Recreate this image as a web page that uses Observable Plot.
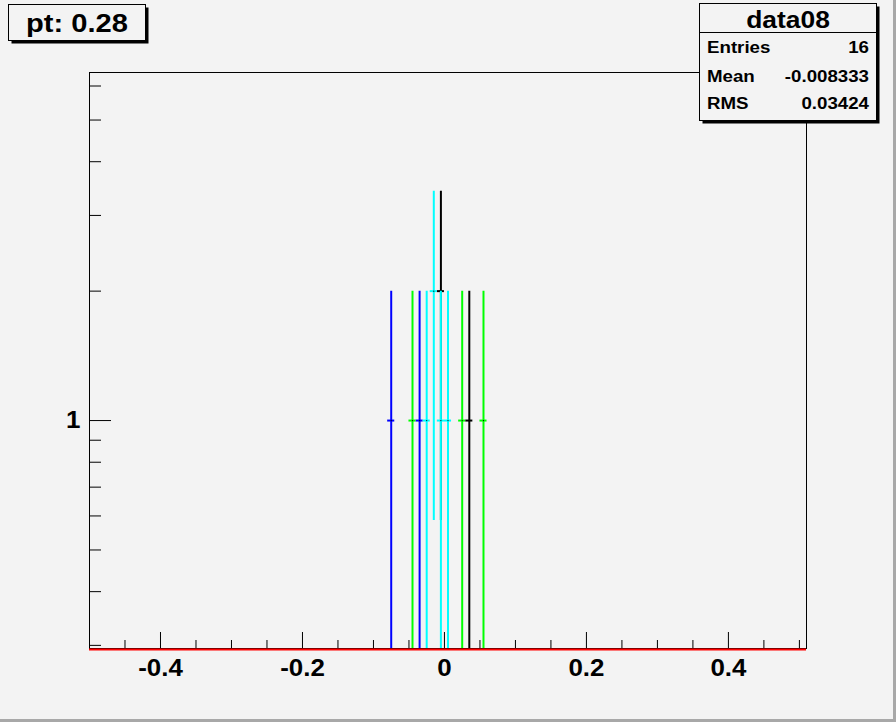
<!DOCTYPE html>
<html>
<head>
<meta charset="utf-8">
<script src="https://cdn.jsdelivr.net/npm/d3@7"></script>
<script src="https://cdn.jsdelivr.net/npm/@observablehq/plot@0.6"></script>
<style>
  html, body { margin: 0; padding: 0; background: #f3f3f3; }
  #canvas { position: relative; width: 896px; height: 722px; background: #f3f3f3; overflow: hidden;
            font-family: "Liberation Sans", Arial, Helvetica, sans-serif; }
  #canvas > svg { position: absolute; left: 0; top: 0; }
  .edgeR { position: absolute; right: 0; top: 0; width: 3px; height: 722px; background: #a8a8a8; }
  .edgeB { position: absolute; left: 0; bottom: 0; width: 896px; height: 3px; background: #a8a8a8; }
</style>
</head>
<body>
<div id="canvas"></div>
<script>
// ---- data ----
const binWidth = 0.01;
const blackCenters = [-0.005, 0.035];
const blackCounts  = [2, 1];
const blueCenters  = [-0.075, -0.035];
const blueCounts   = [1, 1];
const greenCenters = [-0.045, 0.025, 0.055];
const greenCounts  = [1, 1, 1];
const cyanCenters  = [-0.025, -0.015, -0.005, 0.005];
const cyanCounts   = [1, 2, 1, 1];

const xDomain = [-0.5, 0.51];
const yDomain = [0.295, 6.45];
const xMajorTicks = [-0.4, -0.2, 0, 0.2, 0.4];
const xMinorTicks = [-0.45, -0.35, -0.3, -0.25, -0.15, -0.1, -0.05, 0.05, 0.1, 0.15, 0.25, 0.3, 0.35, 0.45, 0.5];
const yMajorTicks = [1];
const yMinorTicks = [0.3, 0.4, 0.5, 0.6, 0.7, 0.8, 0.9, 2, 3, 4, 5, 6];

const titleText = "pt: 0.28";
const statsName = "data08";
const statsLabels = ["Entries", "Mean", "RMS"];
const statsValues = ["16", "-0.008333", "0.03424"];

// ---- build ----
const W = 896, H = 722;
const mL = 89, mR = 90, mT = 72, mB = 74;
const frameW = W - mL - mR, frameH = H - mT - mB;

function series(centers, counts) {
  return centers.map((c, i) => ({x: c, n: counts[i]}));
}
const hists = [
  {data: series(blackCenters, blackCounts), color: "#000000"},
  {data: series(blueCenters, blueCounts), color: "#0000ff"},
  {data: series(greenCenters, greenCounts), color: "#00ff00"},
  {data: series(cyanCenters, cyanCounts), color: "#00ffff"}
];

const histMarks = hists.flatMap(h => [
  Plot.ruleX(h.data, {
    x: "x",
    y1: d => Math.max(d.n - Math.sqrt(d.n), yDomain[0]),
    y2: d => d.n + Math.sqrt(d.n),
    stroke: h.color, strokeWidth: 2
  }),
  Plot.ruleY(h.data, {
    y: "n",
    x1: d => d.x - binWidth / 2,
    x2: d => d.x + binWidth / 2,
    stroke: h.color, strokeWidth: 2
  }),
  Plot.dot(h.data, {x: "x", y: "n", r: 0.6, fill: "#000", stroke: null})
]);

const labelFont = {fontSize: 24, fontWeight: "bold", fontFamily: "Liberation Sans, Arial, sans-serif", fill: "#000"};

const plot = Plot.plot({
  width: W, height: H,
  marginLeft: mL, marginRight: mR, marginTop: mT, marginBottom: mB,
  style: {background: "transparent", overflow: "visible"},
  x: {domain: xDomain},
  y: {type: "log", domain: yDomain},
  marks: [
    Plot.frame({stroke: "#000", strokeWidth: 1}),
    Plot.tickX(xMinorTicks, {x: d => d, insetTop: frameH - 8, stroke: "#000"}),
    Plot.tickX(xMajorTicks, {x: d => d, insetTop: frameH - 16, stroke: "#000"}),
    Plot.tickY(yMinorTicks, {y: d => d, insetRight: frameW - 12, stroke: "#000"}),
    Plot.tickY(yMajorTicks, {y: d => d, insetRight: frameW - 22, stroke: "#000"}),
    ...histMarks,
    Plot.ruleY([yDomain[0]], {stroke: "#ff0000", strokeWidth: 2, dy: 1}),
    Plot.axisX(xMajorTicks, {
      tickSize: 0, tickPadding: 10, label: null,
      tickFormat: d => String(d), ...labelFont
    }),
    Plot.axisY(yMajorTicks, {
      tickSize: 0, tickPadding: 9, label: null,
      tickFormat: d => String(d), ...labelFont
    })
  ]
});

// stretch tick labels horizontally (ROOT's wide bold font)
d3.select(plot).selectAll('g[aria-label="x-axis tick label"] text, g[aria-label="y-axis tick label"] text')
  .each(function () {
    const t = this.getAttribute("transform") || "";
    this.setAttribute("transform", t + " scale(1.08,1)");
  });

const canvas = document.getElementById("canvas");
canvas.appendChild(plot);

// ---- overlay: title box and stats box ----
const ov = d3.create("svg").attr("width", W).attr("height", H)
  .attr("font-family", "Liberation Sans, Arial, sans-serif").attr("font-weight", "bold");

// title box
ov.append("rect").attr("x", 11.5).attr("y", 7.5).attr("width", 137).attr("height", 36).attr("fill", "#000");
ov.append("rect").attr("x", 8.5).attr("y", 4.5).attr("width", 137).attr("height", 36)
  .attr("fill", "#f3f3f3").attr("stroke", "#000");
ov.append("text").attr("transform", "translate(77,32) scale(1.12,1)")
  .attr("text-anchor", "middle").attr("font-size", 26).text(titleText);

// stats box
ov.append("rect").attr("x", 702.5).attr("y", 6.5).attr("width", 177).attr("height", 117).attr("fill", "#000");
ov.append("rect").attr("x", 699.5).attr("y", 3.5).attr("width", 177).attr("height", 117)
  .attr("fill", "#f3f3f3").attr("stroke", "#000");
ov.append("line").attr("x1", 699.5).attr("x2", 876.5).attr("y1", 32.5).attr("y2", 32.5).attr("stroke", "#000");
ov.append("text").attr("transform", "translate(788,28) scale(1.1,1)")
  .attr("text-anchor", "middle").attr("font-size", 24).text(statsName);
const rowBase = [53, 82, 109];
statsLabels.forEach((lab, i) => {
  ov.append("text").attr("transform", `translate(707,${rowBase[i]}) scale(1.1,1)`)
    .attr("text-anchor", "start").attr("font-size", 17).text(lab);
  ov.append("text").attr("transform", `translate(869,${rowBase[i]}) scale(1.1,1)`)
    .attr("text-anchor", "end").attr("font-size", 17).text(statsValues[i]);
});
canvas.appendChild(ov.node());

const er = document.createElement("div"); er.className = "edgeR"; canvas.appendChild(er);
const eb = document.createElement("div"); eb.className = "edgeB"; canvas.appendChild(eb);
</script>
</body>
</html>
